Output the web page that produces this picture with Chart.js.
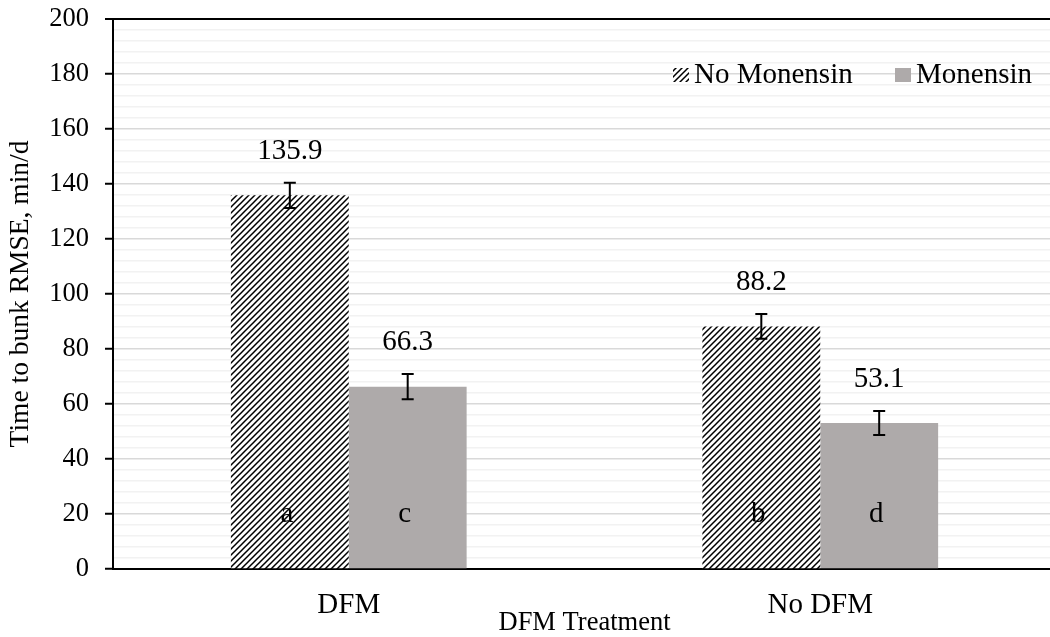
<!DOCTYPE html>
<html>
<head>
<meta charset="utf-8">
<style>
  html, body { margin: 0; padding: 0; background: #fff; overflow: hidden; width: 1050px; height: 637px; }
  canvas { display: block; }
</style>
<script src="https://cdn.jsdelivr.net/npm/chart.js@4.4.1/dist/chart.umd.min.js"></script>
</head>
<body>
<canvas id="c" width="1056" height="637"></canvas>
<script>
// Time to bunk RMSE (min/d) by DFM treatment and monensin
const categories = ['DFM', 'No DFM'];
const seriesNames = ['No Monensin', 'Monensin'];
const noMonensin = [135.9, 88.2];
const monensin = [66.3, 53.1];
const noMonensinErr = [4.6, 4.5];
const monensinErr = [4.6, 4.4];
const noMonensinLetters = ['a', 'b'];
const monensinLetters = ['c', 'd'];
const yTickLabels = [0, 20, 40, 60, 80, 100, 120, 140, 160, 180, 200];

const SERIF = '"Liberation Serif", "Times New Roman", Times, serif';
const GRAY = '#aeaaaa';
const LETTER_LEVEL = 20;

const canvas = document.getElementById('c');
const mainCtx = canvas.getContext('2d');

// black-on-white upward diagonal hatch
function makeHatch() {
  const s = 6;
  const t = document.createElement('canvas');
  t.width = s; t.height = s;
  const g = t.getContext('2d');
  g.fillStyle = '#fff';
  g.fillRect(0, 0, s, s);
  g.strokeStyle = '#000';
  g.lineWidth = 1.5;
  g.beginPath();
  g.moveTo(-1, s + 1); g.lineTo(s + 1, -1);
  g.moveTo(-1, 1); g.lineTo(1, -1);
  g.moveTo(s - 1, s + 1); g.lineTo(s + 1, s - 1);
  g.stroke();
  return mainCtx.createPattern(t, 'repeat');
}
const hatch = makeHatch();

// error bars, value labels above, significance letters inside the bars
const annotate = {
  id: 'annotate',
  afterDatasetsDraw(chart) {
    const ctx = chart.ctx;
    const y = chart.scales.y;
    chart.data.datasets.forEach((ds, di) => {
      const meta = chart.getDatasetMeta(di);
      meta.data.forEach((bar, i) => {
        const v = ds.data[i];
        const e = ds.errors[i];
        const yTop = y.getPixelForValue(v + e);
        const yBot = y.getPixelForValue(v - e);
        ctx.save();
        ctx.strokeStyle = '#000';
        ctx.lineWidth = 2;
        ctx.beginPath();
        ctx.moveTo(bar.x, yTop); ctx.lineTo(bar.x, yBot);
        ctx.moveTo(bar.x - 6, yTop); ctx.lineTo(bar.x + 6, yTop);
        ctx.moveTo(bar.x - 6, yBot); ctx.lineTo(bar.x + 6, yBot);
        ctx.stroke();
        ctx.fillStyle = '#000';
        ctx.font = '29px ' + SERIF;
        ctx.textAlign = 'center';
        ctx.textBaseline = 'alphabetic';
        ctx.fillText(v.toFixed(1), bar.x, yTop - 24);
        ctx.textBaseline = 'middle';
        ctx.fillText(ds.letters[i], bar.x - 3, y.getPixelForValue(LETTER_LEVEL));
        ctx.restore();
      });
    });
  }
};

// legend inside the plot, upper right
const insideLegend = {
  id: 'insideLegend',
  afterDraw(chart) {
    const ctx = chart.ctx;
    const items = [
      { x: 673, fill: hatch, text: seriesNames[0] },
      { x: 895, fill: GRAY, text: seriesNames[1] }
    ];
    ctx.save();
    ctx.font = '29px ' + SERIF;
    ctx.textAlign = 'left';
    ctx.textBaseline = 'alphabetic';
    items.forEach(it => {
      ctx.fillStyle = it.fill;
      ctx.fillRect(it.x, 68, 16, 14);
      ctx.fillStyle = '#000';
      ctx.fillText(it.text, it.x + 21, 83);
    });
    ctx.restore();
  }
};

new Chart(canvas, {
  type: 'bar',
  data: {
    labels: categories,
    datasets: [
      {
        label: seriesNames[0],
        data: noMonensin,
        errors: noMonensinErr,
        letters: noMonensinLetters,
        backgroundColor: hatch,
        borderWidth: 0
      },
      {
        label: seriesNames[1],
        data: monensin,
        errors: monensinErr,
        letters: monensinLetters,
        backgroundColor: GRAY,
        borderWidth: 0
      }
    ]
  },
  options: {
    responsive: false,
    devicePixelRatio: 1,
    animation: false,
    categoryPercentage: 0.5,
    barPercentage: 1.0,
    layout: { padding: { top: 19, right: 0, bottom: 0, left: 0 } },
    plugins: {
      legend: { display: false },
      tooltip: { enabled: false }
    },
    scales: {
      x: {
        grid: { display: false },
        border: { display: true, color: '#000', width: 2 },
        ticks: {
          color: '#000',
          font: { family: SERIF, size: 29 },
          padding: 11
        },
        title: {
          display: true,
          text: 'DFM Treatment',
          color: '#000',
          font: { family: SERIF, size: 26.5, lineHeight: 1 },
          padding: { top: 0, bottom: 1 }
        },
        afterFit(scale) {
          scale.height = 68;
          scale.paddingLeft = 0;
          scale.paddingRight = 0;
        }
      },
      y: {
        min: 0,
        max: 200,
        border: { display: true, color: '#000', width: 2 },
        grid: {
          color: c => c.tick.value === 200 ? '#000' : (c.tick.value % 20 === 0 ? '#d9d9d9' : '#f2f2f2'),
          lineWidth: c => c.tick.value === 200 ? 2 : 1.5,
          tickColor: c => yTickLabels.includes(c.tick.value) ? '#000' : 'rgba(0,0,0,0)',
          tickWidth: 2,
          tickLength: 8,
          drawTicks: true
        },
        ticks: {
          stepSize: 4,
          autoSkip: false,
          color: '#000',
          font: { family: SERIF, size: 26.5 },
          padding: 16,
          callback: v => yTickLabels.includes(v) ? String(v) : ''
        },
        title: {
          display: true,
          text: 'Time to bunk RMSE, min/d',
          color: '#000',
          font: { family: SERIF, size: 27.5, lineHeight: 1.2 },
          padding: { top: 4, bottom: 0 }
        },
        afterFit(scale) {
          scale.width = 113;
          scale.paddingTop = 0;
          scale.paddingBottom = 0;
        }
      }
    }
  },
  plugins: [annotate, insideLegend]
});
</script>
</body>
</html>
